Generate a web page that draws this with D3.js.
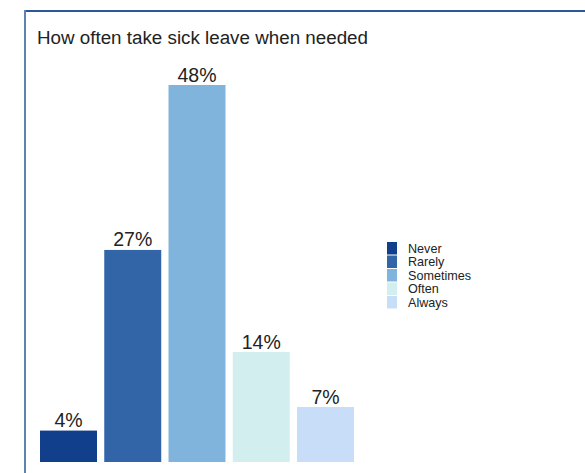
<!DOCTYPE html>
<html>
<head>
<meta charset="utf-8">
<script src="https://cdn.jsdelivr.net/npm/d3@7"></script>
<style>
  body { margin: 0; background: #fff; }
  text { font-family: "Liberation Sans", Arial, sans-serif; fill: #222; }
</style>
</head>
<body>
<div id="chart"></div>
<script>
// data
var categories = ["Never", "Rarely", "Sometimes", "Often", "Always"];
var values = [4, 27, 48, 14, 7];
var colors = ["#123f8c", "#3264a8", "#80b4dc", "#d3eeee", "#c7ddf8"];

var svgWidth = 585;
var svgHeight = 473;

var svg = d3.select("#chart")
  .append("svg")
  .attr("width", svgWidth)
  .attr("height", svgHeight);

// frame (top and left edges visible)
svg.append("line")
  .attr("x1", 25).attr("y1", 11)
  .attr("x2", svgWidth).attr("y2", 11)
  .attr("stroke", "#2a5a95")
  .attr("stroke-width", 2);
svg.append("line")
  .attr("x1", 25).attr("y1", 10)
  .attr("x2", 25).attr("y2", svgHeight)
  .attr("stroke", "#5d83b3")
  .attr("stroke-width", 2);

svg.append("text")
  .attr("x", 37)
  .attr("y", 44)
  .attr("font-size", "18.8px")
  .text("How often take sick leave when needed");

var xScale = d3.scaleBand()
  .domain(categories)
  .range([40, 354])
  .paddingInner(0.113)
  .paddingOuter(0);

var yScale = d3.scaleLinear()
  .domain([0, 48])
  .range([462, 85]);

var data = categories.map(function(c, i) {
  return { name: c, value: values[i], color: colors[i] };
});

svg.selectAll("rect.bar")
  .data(data)
  .enter()
  .append("rect")
  .attr("class", "bar")
  .attr("x", d => xScale(d.name))
  .attr("y", d => yScale(d.value))
  .attr("width", xScale.bandwidth())
  .attr("height", d => yScale(0) - yScale(d.value))
  .attr("fill", d => d.color);

svg.selectAll("text.label")
  .data(data)
  .enter()
  .append("text")
  .attr("class", "label")
  .attr("x", d => xScale(d.name) + xScale.bandwidth() / 2)
  .attr("y", d => yScale(d.value) - 3.5)
  .attr("text-anchor", "middle")
  .attr("font-size", "19.5px")
  .text(d => d.value + "%");

// legend
var legend = svg.append("g")
  .attr("transform", "translate(387, 242)");

var legendItems = legend.selectAll("g")
  .data(data)
  .enter()
  .append("g")
  .attr("transform", (d, i) => `translate(0, ${i * 13.5})`);

legendItems.append("rect")
  .attr("width", 10)
  .attr("height", 12.5)
  .attr("fill", d => d.color);

legendItems.append("text")
  .attr("x", 21)
  .attr("y", 10.5)
  .attr("font-size", "12.6px")
  .text(d => d.name);
</script>
</body>
</html>
